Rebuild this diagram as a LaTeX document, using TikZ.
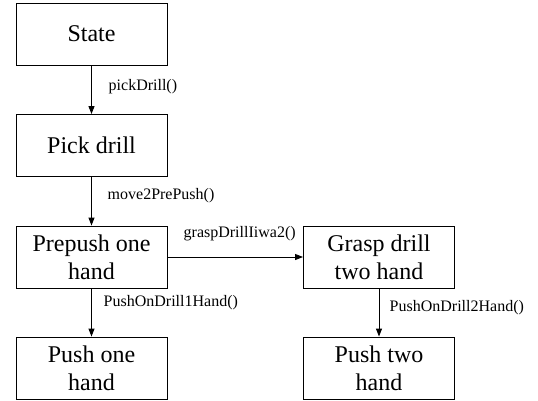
\documentclass[tikz,border=0pt]{standalone}
\usepackage{fontspec}
\setmainfont{Liberation Serif}
\newfontfamily\boxfont{Liberation Serif}
\usetikzlibrary{arrows.meta}
\begin{document}
\begin{tikzpicture}[x=1pt,y=-1pt,
  statebox/.style={draw, line width=0.9pt, minimum width=151pt, minimum height=62pt,
    inner sep=0pt, align=center, font=\boxfont\fontsize{24}{28}\selectfont},
  trans/.style={draw, line width=0.9pt, -{Triangle[length=8pt,width=6pt]}},
  lbl/.style={font=\boxfont\fontsize{16}{18}\selectfont, inner sep=0pt}]
\useasboundingbox (0,0) rectangle (538,400);
% left column of states
\node[statebox] (st) at (91.5,34) {State};
\node[statebox] (pd) at (91.5,145.5) {Pick drill};
\node[statebox] (po) at (91.5,257) {Prepush one\\hand};
\node[statebox] (p1) at (91.5,368) {Push one\\hand};
% right column of states
\node[statebox] (gd) at (379,257) {Grasp drill\\two hand};
\node[statebox] (p2) at (379,368) {Push two\\hand};
% transitions
\draw[trans] (st) -- (pd);
\draw[trans] (pd) -- (po);
\draw[trans] (po) -- (p1);
\draw[trans] (po) -- (gd);
\draw[trans] (gd) -- (p2);
% transition labels
\node[lbl, anchor=west] (l1) at (108.5,87) {pickDrill()};
\node[lbl, anchor=west] (l2) at (107.5,196) {move2PrePush()};
\node[lbl, anchor=west] (l3) at (183.5,234) {graspDrillIiwa2()};
\node[lbl, anchor=west] (l4) at (103.5,303) {PushOnDrill1Hand()};
\node[lbl, anchor=west] (l5) at (389.5,308) {PushOnDrill2Hand()};
\end{tikzpicture}
\end{document}
